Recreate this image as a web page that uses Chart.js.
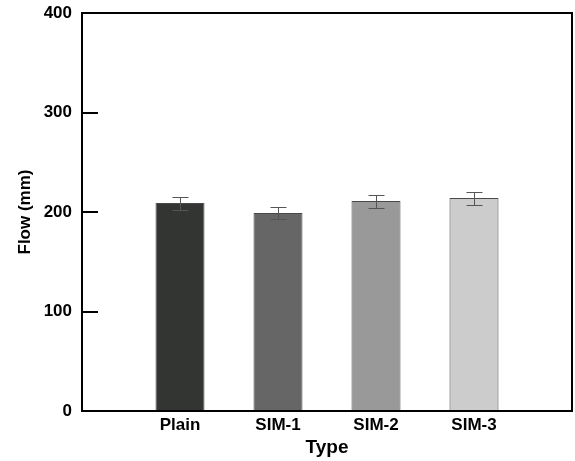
<!DOCTYPE html>
<html>
<head>
<meta charset="utf-8">
<script src="https://cdn.jsdelivr.net/npm/chart.js@4"></script>
<style>
  html, body { margin: 0; padding: 0; background: #fff; }
  #wrap { width: 575px; height: 461px; }
</style>
</head>
<body>
<div id="wrap"><canvas id="flowChart"></canvas></div>
<script>
// flow test results per mix type
const categories = ['Plain', 'SIM-1', 'SIM-2', 'SIM-3'];
const flowMean = [209, 199, 211, 214];
const flowErr = [6.5, 6, 6.5, 6.5];
const barColors = ['#333533', '#666666', '#999999', '#cccccc'];
const yTicks = [0, 100, 200, 300, 400];

// blank slots at both ends leave room around the bars
const labels = ['', ...categories, ''];
const values = [null, ...flowMean, null];
const errors = [null, ...flowErr, null];
const colors = ['#fff', ...barColors, '#fff'];

const FONT = "'Liberation Sans', Arial, sans-serif";

// frame, inward y ticks and error bars
const extras = {
    id: 'extras',
    afterDatasetsDraw(chart) {
        const ctx = chart.ctx;
        const area = chart.chartArea;
        const y = chart.scales.y;
        const meta = chart.getDatasetMeta(0);

        ctx.save();
        ctx.strokeStyle = '#555';
        ctx.lineWidth = 1;
        meta.data.forEach((bar, i) => {
            if (values[i] == null) return;
            const x = Math.round(bar.x) + 0.5;
            const top = Math.round(y.getPixelForValue(values[i] + errors[i])) + 0.5;
            const bot = Math.round(y.getPixelForValue(values[i] - errors[i])) + 0.5;
            ctx.beginPath();
            ctx.moveTo(x, top); ctx.lineTo(x, bot);
            ctx.moveTo(x - 8, top); ctx.lineTo(x + 8, top);
            ctx.moveTo(x - 8, bot); ctx.lineTo(x + 8, bot);
            ctx.stroke();
        });

        ctx.strokeStyle = '#000';
        ctx.lineWidth = 2;
        ctx.strokeRect(area.left, area.top, area.right - area.left, area.bottom - area.top);
        ctx.beginPath();
        yTicks.forEach(v => {
            const py = Math.round(y.getPixelForValue(v));
            ctx.moveTo(area.left, py);
            ctx.lineTo(area.left + 16, py);
        });
        ctx.stroke();
        ctx.restore();
    }
};

new Chart(document.getElementById('flowChart'), {
    type: 'bar',
    data: {
        labels: labels,
        datasets: [{
            data: values,
            backgroundColor: colors,
            borderColor: '#4a4a4a',
            borderWidth: 1,
            categoryPercentage: 0.5,
            barPercentage: 1.0
        }]
    },
    options: {
        responsive: true,
        maintainAspectRatio: false,
        animation: false,
        layout: { padding: { top: 13, right: 3, left: 0, bottom: 0 } },
        plugins: {
            legend: { display: false },
            tooltip: { enabled: false }
        },
        scales: {
            x: {
                offset: false,
                grid: { display: false, drawTicks: false, tickLength: 0 },
                border: { display: false },
                ticks: {
                    color: '#000',
                    padding: 4,
                    maxRotation: 0,
                    autoSkip: false,
                    font: { family: FONT, size: 17, weight: 'bold' }
                },
                title: {
                    display: true,
                    text: 'Type',
                    color: '#000',
                    padding: { top: 2, bottom: 2 },
                    font: { family: FONT, size: 19, weight: 'bold' }
                },
                afterFit(scale) {
                    scale.height = 50;
                    scale.paddingLeft = 0;
                    scale.paddingRight = 0;
                }
            },
            y: {
                min: 0,
                max: 400,
                grid: { display: false, drawTicks: false, tickLength: 0 },
                border: { display: false },
                afterBuildTicks(scale) { scale.ticks = yTicks.map(v => ({ value: v })); },
                ticks: {
                    color: '#000',
                    padding: 10,
                    font: { family: FONT, size: 17, weight: 'bold' }
                },
                title: {
                    display: true,
                    text: 'Flow (mm)',
                    color: '#000',
                    padding: { top: 15, bottom: 0 },
                    font: { family: FONT, size: 17, weight: 'bold' }
                },
                afterFit(scale) {
                    scale.width = 82;
                    scale.paddingTop = 0;
                    scale.paddingBottom = 0;
                }
            }
        }
    },
    plugins: [extras]
});
</script>
</body>
</html>
